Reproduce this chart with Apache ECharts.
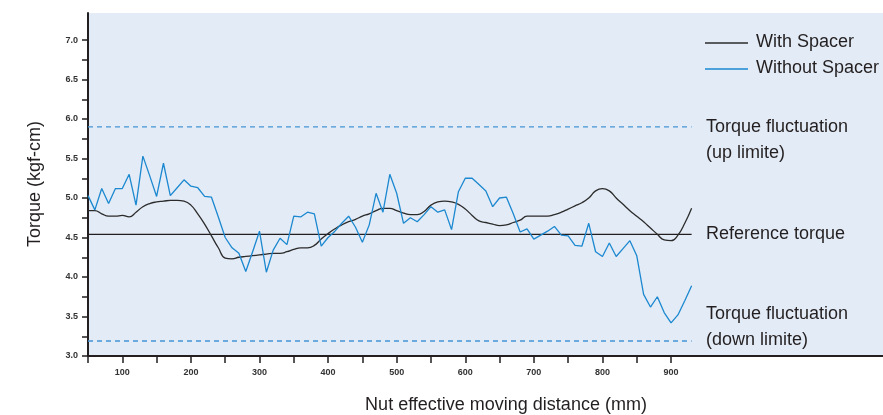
<!DOCTYPE html>
<html>
<head>
<meta charset="utf-8">
<script src="https://cdn.jsdelivr.net/npm/echarts@6/dist/echarts.min.js"></script>
<style>
html,body{margin:0;padding:0;background:#fff;}
#chart{width:883px;height:415px;}
</style>
</head>
<body>
<div id="chart"></div>
<script>
// ---- data ----
const distances = [50,60,70,80,90,100,110,120,130,140,150,160,170,180,190,200,210,220,230,240,250,260,270,280,290,300,310,320,330,340,350,360,370,380,390,400,410,420,430,440,450,460,470,480,490,500,510,520,530,540,550,560,570,580,590,600,610,620,630,640,650,660,670,680,690,700,710,720,730,740,750,760,770,780,790,800,810,820,830,840,850,860,870,880,890,900,910,920,930];
const withSpacer = [4.84,4.84,4.80,4.77,4.77,4.78,4.76,4.82,4.89,4.93,4.95,4.96,4.97,4.97,4.96,4.91,4.80,4.67,4.52,4.37,4.24,4.23,4.25,4.26,4.27,4.28,4.29,4.30,4.30,4.32,4.35,4.37,4.37,4.40,4.48,4.55,4.61,4.66,4.70,4.73,4.77,4.80,4.84,4.87,4.87,4.84,4.81,4.79,4.79,4.83,4.91,4.95,4.96,4.95,4.92,4.86,4.78,4.71,4.69,4.67,4.65,4.66,4.69,4.72,4.77,4.77,4.77,4.77,4.79,4.82,4.86,4.90,4.94,5.00,5.09,5.12,5.09,5.00,4.92,4.84,4.77,4.70,4.62,4.54,4.47,4.46,4.53,4.68,4.87];
const withoutSpacer = [5.03,4.85,5.12,4.93,5.12,5.12,5.30,4.91,5.53,5.28,5.02,5.44,5.03,5.13,5.23,5.15,5.13,5.02,5.01,4.76,4.50,4.37,4.30,4.07,4.32,4.58,4.06,4.34,4.49,4.41,4.77,4.76,4.82,4.80,4.39,4.50,4.58,4.68,4.77,4.63,4.44,4.66,5.06,4.82,5.30,5.06,4.68,4.75,4.70,4.79,4.89,4.82,4.85,4.60,5.08,5.25,5.25,5.17,5.09,4.89,5.00,5.01,4.80,4.57,4.61,4.48,4.53,4.58,4.64,4.53,4.52,4.40,4.39,4.68,4.32,4.26,4.43,4.26,4.36,4.46,4.27,3.78,3.62,3.75,3.55,3.42,3.52,3.70,3.89];
const limitRange = [50, 930];
const upLimit = 5.90;
const referenceTorque = 4.54;
const downLimit = 3.19;
const yTickValues = [3.0,3.25,3.5,3.75,4.0,4.25,4.5,4.75,5.0,5.25,5.5,5.75,6.0,6.25,6.5,6.75,7.0];
const yLabelValues = [3.0,3.5,4.0,4.5,5.0,5.5,6.0,6.5,7.0];
const xTickValues = [50,100,150,200,250,300,350,400,450,500,550,600,650,700,750,800,850,900];
const xLabelValues = [100,200,300,400,500,600,700,800,900];
const seriesNames = ['With Spacer','Without Spacer'];
const notes = ['Torque fluctuation','(up limite)','Reference torque','Torque fluctuation','(down limite)'];
const xTitle = 'Nut effective moving distance (mm)';
const yTitle = 'Torque (kgf-cm)';

// ---- build ----
const pair = (xs, ys) => xs.map((x, i) => [x, ys[i]]);
const hline = v => limitRange.map(x => [x, v]);

const BLUE = '#1b88d0';
const DASH = '#4595d6';
const DARK = '#231f20';
const TXT = 18;
const FONT = TXT + 'px "Liberation Sans", Arial';

const chart = echarts.init(document.getElementById('chart'), null, {renderer: 'canvas'});
chart.setOption({
  animation: false,
  grid: {left: 88, right: 0, top: 13, bottom: 59, show: true, backgroundColor: '#e3ebf6', borderWidth: 0},
  xAxis: {
    type: 'value', min: 50, max: 1209,
    splitLine: {show: false},
    axisLine: {lineStyle: {color: DARK, width: 2}},
    axisTick: {show: true, length: 7, lineStyle: {color: DARK, width: 1.5}, customValues: xTickValues},
    axisLabel: {customValues: xLabelValues, color: '#333', fontWeight: 'bold', fontSize: 9, fontFamily: 'Liberation Sans, Arial', margin: 12}
  },
  yAxis: {
    type: 'value', min: 3, max: 7.342,
    splitLine: {show: false},
    axisLine: {show: true, lineStyle: {color: DARK, width: 2}},
    axisTick: {show: true, length: 6, lineStyle: {color: DARK, width: 1.5}, customValues: yTickValues},
    axisLabel: {customValues: yLabelValues, formatter: v => v.toFixed(1), color: '#333', fontWeight: 'bold', fontSize: 9, fontFamily: 'Liberation Sans, Arial', margin: 10}
  },
  series: [
    {type: 'line', data: hline(upLimit), symbol: 'none', silent: true, lineStyle: {color: DASH, width: 1.3, type: [5, 4]}},
    {type: 'line', data: hline(downLimit), symbol: 'none', silent: true, lineStyle: {color: DASH, width: 1.3, type: [5, 4]}},
    {type: 'line', data: hline(referenceTorque), symbol: 'none', silent: true, lineStyle: {color: DARK, width: 1.2}},
    {name: seriesNames[0], type: 'line', data: pair(distances, withSpacer), symbol: 'none', smooth: 0.5, lineStyle: {color: '#2b2b2b', width: 1.3}},
    {name: seriesNames[1], type: 'line', data: pair(distances, withoutSpacer), symbol: 'none', lineStyle: {color: BLUE, width: 1.3}}
  ],
  graphic: [
    {type: 'line', shape: {x1: 705, y1: 43, x2: 748, y2: 43}, style: {stroke: '#2b2b2b', lineWidth: 1.3}},
    {type: 'line', shape: {x1: 705, y1: 69, x2: 748, y2: 69}, style: {stroke: BLUE, lineWidth: 1.3}},
    {type: 'text', x: 756, y: 42, style: {text: seriesNames[0], fill: DARK, font: FONT, textVerticalAlign: 'middle'}},
    {type: 'text', x: 756, y: 68, style: {text: seriesNames[1], fill: DARK, font: FONT, textVerticalAlign: 'middle'}},
    {type: 'text', x: 706, y: 127, style: {text: notes[0], fill: DARK, font: FONT, textVerticalAlign: 'middle'}},
    {type: 'text', x: 706, y: 153, style: {text: notes[1], fill: DARK, font: FONT, textVerticalAlign: 'middle'}},
    {type: 'text', x: 706, y: 234, style: {text: notes[2], fill: DARK, font: FONT, textVerticalAlign: 'middle'}},
    {type: 'text', x: 706, y: 314, style: {text: notes[3], fill: DARK, font: FONT, textVerticalAlign: 'middle'}},
    {type: 'text', x: 706, y: 340, style: {text: notes[4], fill: DARK, font: FONT, textVerticalAlign: 'middle'}},
    {type: 'text', x: 506, y: 405, style: {text: xTitle, fill: DARK, font: '18px "Liberation Sans", Arial', textAlign: 'center', textVerticalAlign: 'middle'}},
    {type: 'text', x: 35, y: 184, rotation: Math.PI / 2, style: {text: yTitle, fill: DARK, font: '18px "Liberation Sans", Arial', textAlign: 'center', textVerticalAlign: 'middle'}}
  ]
});
</script>
</body>
</html>
